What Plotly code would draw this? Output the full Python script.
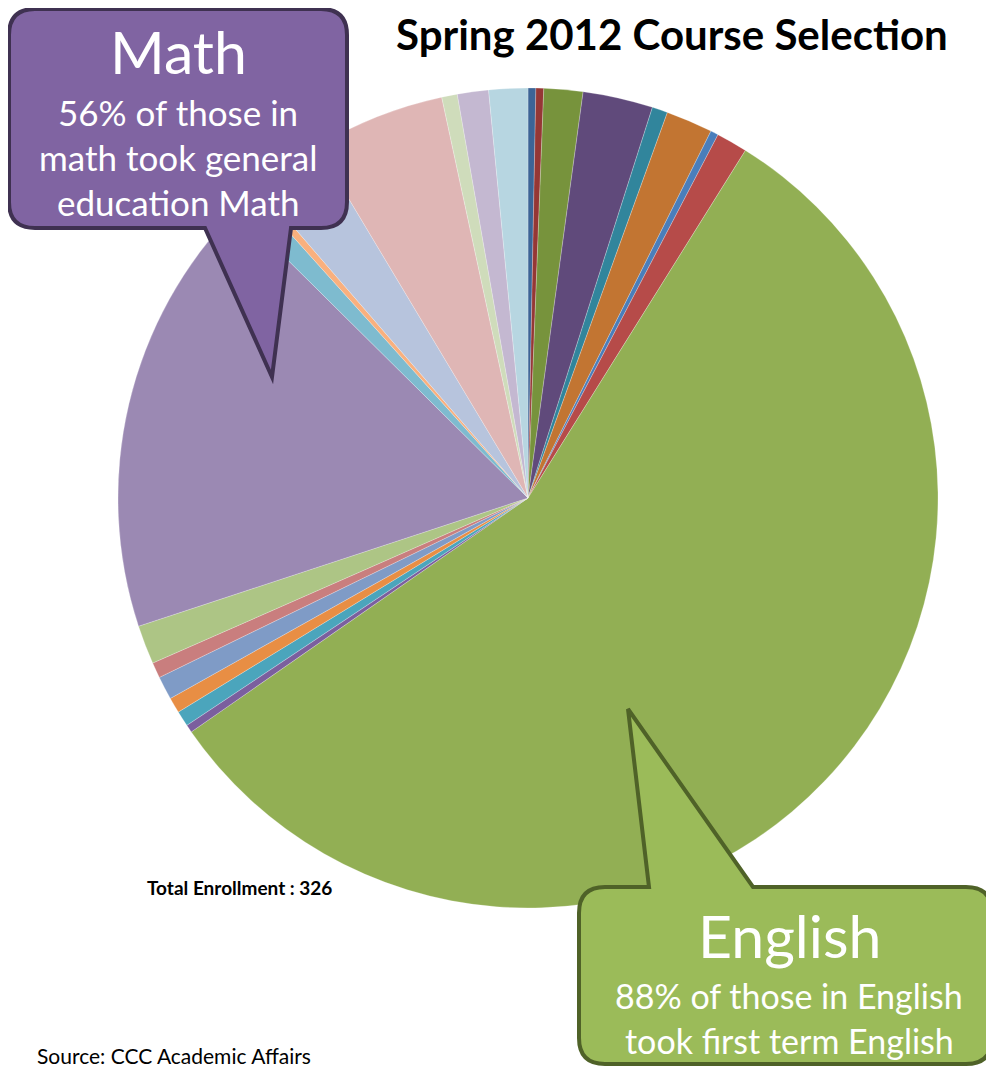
import plotly.graph_objects as go

W, H = 986, 1059   # figure size; the page adds an 8px body margin
OFF = 8

# Data (clockwise from 12 o'clock), counts of students; total 326
categories = [
    "Course 1", "Course 2", "Course 3", "Course 4", "Course 5", "Course 6",
    "Course 7", "Course 8", "English", "Course 10", "Course 11", "Course 12",
    "Course 13", "Course 14", "Course 15", "Math", "Course 17", "Course 18",
    "Course 19", "Course 20", "Course 21", "Course 22", "Course 23",
]
values = [1, 1, 5, 9, 2, 6, 1, 4, 184, 1, 2, 2, 3, 2, 5, 57, 3, 1, 9, 17, 2, 4, 5]
colors = [
    "#3C6496", "#953735", "#77933C", "#604A7B", "#31859C", "#C27532",
    "#4A7EBB", "#B64B49", "#92AF54", "#7B5F9E", "#4BA5BC", "#E88E44",
    "#7F9BC6", "#C97E7E", "#ADC585", "#9B89B3", "#7EBBCF", "#F9B07E",
    "#B7C4DD", "#DFB6B5", "#CFDCBB", "#C4B8D1", "#B7D6E1",
]

title_text = "Spring 2012 Course Selection"
total_text = "Total Enrollment : 326"
source_text = "Source: CCC Academic Affairs"
math_head = "Math"
math_lines = ["56% of those in", "math took general", "education Math"]
eng_head = "English"
eng_lines = ["88% of those in English", "took first term English"]

FONT = "Lato"

def px(x):
    return (x - OFF) / W

def py(y):
    return 1 - (y - OFF) / H

# pie placement (page pixels)
cx, cy, r = 528, 498, 410

fig = go.Figure(go.Pie(
    labels=categories, values=values, sort=False, direction="clockwise",
    rotation=0, textinfo="none", hoverinfo="label+value",
    marker=dict(colors=colors, line=dict(color="rgba(255,255,255,0.6)", width=0.4)),
    domain=dict(x=[px(cx - r), px(cx + r)], y=[py(cy + r), py(cy - r)]),
    showlegend=False,
))

def callout_path(x0, y0, x1, y1, rad, tail, side):
    ba, bb, tx, ty = tail
    P = lambda x, y: f"{px(x):.5f},{py(y):.5f}"
    if side == "bottom":
        d = (f"M {P(x0+rad, y0)} L {P(x1-rad, y0)} Q {P(x1, y0)} {P(x1, y0+rad)} "
             f"L {P(x1, y1-rad)} Q {P(x1, y1)} {P(x1-rad, y1)} "
             f"L {P(bb, y1)} L {P(tx, ty)} L {P(ba, y1)} "
             f"L {P(x0+rad, y1)} Q {P(x0, y1)} {P(x0, y1-rad)} "
             f"L {P(x0, y0+rad)} Q {P(x0, y0)} {P(x0+rad, y0)} Z")
    else:
        d = (f"M {P(x0+rad, y0)} L {P(ba, y0)} L {P(tx, ty)} L {P(bb, y0)} "
             f"L {P(x1-rad, y0)} Q {P(x1, y0)} {P(x1, y0+rad)} "
             f"L {P(x1, y1-rad)} Q {P(x1, y1)} {P(x1-rad, y1)} "
             f"L {P(x0+rad, y1)} Q {P(x0, y1)} {P(x0, y1-rad)} "
             f"L {P(x0, y0+rad)} Q {P(x0, y0)} {P(x0+rad, y0)} Z")
    return d

shapes = [
    dict(type="path", xref="paper", yref="paper",
         path=callout_path(9, 9, 347, 228, 26, (205, 291, 272, 377), "bottom"),
         fillcolor="#8064A2", line=dict(color="#3F3151", width=4), layer="above"),
    dict(type="path", xref="paper", yref="paper",
         path=callout_path(579, 887, 992, 1064, 26, (649, 753, 628, 709), "top"),
         fillcolor="#9BBB59", line=dict(color="#4F6228", width=4), layer="above"),
]

ann = []
def text(x, y, s, size, color="white", bold=False, xanchor="center"):
    ann.append(dict(x=px(x), y=py(y), xref="paper", yref="paper", text=(f"<b>{s}</b>" if bold else s),
                    showarrow=False, xanchor=xanchor, yanchor="middle",
                    font=dict(family=FONT, size=size, color=color)))

text(672, 34, title_text, 42, color="black", bold=True)
text(178, 52, math_head, 59)
for i, s in enumerate(math_lines):
    text(178, 112 + 45 * i, s, 35)
text(789, 935, eng_head, 59)
for i, s in enumerate(eng_lines):
    text(789, 995 + 45 * i, s, 34)
text(145, 887, total_text, 19, color="black", bold=True, xanchor="left")
text(35, 1055, source_text, 21, color="black", xanchor="left")

fig.update_layout(
    width=W, height=H, margin=dict(l=0, r=0, t=0, b=0),
    paper_bgcolor="white", plot_bgcolor="white",
    shapes=shapes, annotations=ann,
)

fig.write_html("out.html")
